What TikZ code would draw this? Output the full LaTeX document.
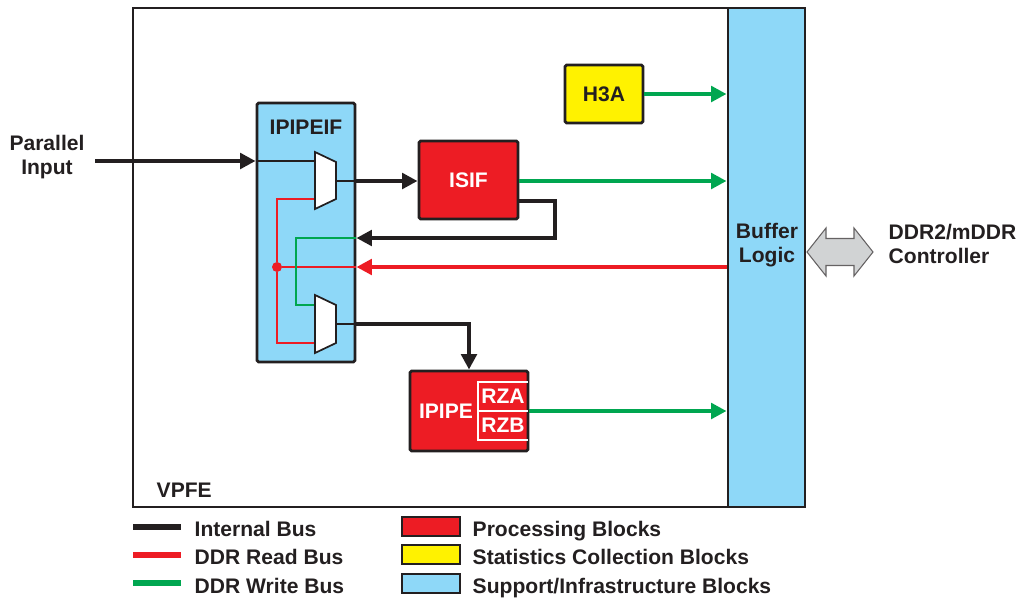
\documentclass[tikz,border=0pt]{standalone}
\usepackage{fontspec}
\setmainfont{Liberation Sans}
\usetikzlibrary{arrows.meta,fit}
\definecolor{txt}{HTML}{231F20}
\definecolor{pred}{HTML}{ED1C24}
\definecolor{pyel}{HTML}{FFF200}
\definecolor{pblue}{HTML}{8ED8F8}
\definecolor{pgreen}{HTML}{00A650}
\definecolor{pgray}{HTML}{D1D3D4}
\begin{document}
\begin{tikzpicture}[x=0.75pt,y=-0.75pt,
  every node/.style={font=\fontsize{15.8pt}{17.5pt}\selectfont\bfseries, text=txt},
  blk/.style={draw=txt, line width=2.2pt, rounded corners=1.2pt, inner sep=0pt},
  procblk/.style={blk, fill=pred},
  statblk/.style={blk, fill=pyel},
  supblk/.style={blk, fill=pblue},
  tip/.style={-{Triangle[length=11.5pt,width=11.5pt]}},
  bus/.style={draw=txt, line width=3.4pt},
  rbus/.style={draw=pred, line width=3.4pt},
  wbus/.style={draw=pgreen, line width=3.4pt},
  thinblk/.style={draw=txt, line width=0.8pt},
  thinred/.style={draw=pred, line width=0.8pt},
  thingreen/.style={draw=pgreen, line width=0.8pt},
  mux/.style={draw=txt, line width=1.3pt, fill=white, line join=miter},
  legline/.style={line width=3.8pt},
  legbox/.style={draw=txt, line width=1pt, inner sep=0pt}
]
\useasboundingbox (0,0) rectangle (1017,597);

% outer VPFE and buffer
\node[draw=txt, line width=2.2pt, inner sep=0pt, fit={(133,8) (728,507)}] (vpfe) {};
\node[anchor=west] (vpfelbl) at (152,490) {VPFE};
\node[supblk, rounded corners=0pt, line width=2.2pt, fit={(728,8) (805,507)}] (buffer) {};
\node[align=center] (buflbl) at (767,245) {Buffer\\Logic};

% blocks
\node[supblk, fit={(257,103) (355,362)}] (ipipeif) {};
\node (ipipeiflbl) at (306,127) {IPIPEIF};
\node[procblk, fit={(419,141) (518,219)}] (isif) {};
\node[text=white] (isiflbl) at (isif.center) {ISIF};
\node[statblk, fit={(565,65) (643,123)}] (h3a) {};
\node (h3albl) at (h3a.center) {H3A};
\node[procblk, fit={(410,371) (528,451)}] (ipipe) {};
\node[text=white] (ipipelbl) at (446,411) {IPIPE};
\draw[white, line width=1.2pt] (528,382) -- (478,382) -- (478,440) -- (528,440);
\draw[white, line width=1.2pt] (478,411) -- (528,411);
\node[text=white] (rza) at (503,396) {RZA};
\node[text=white] (rzb) at (503,425) {RZB};

% mux port coordinates
\coordinate (m1a) at (315,161);
\coordinate (m1r) at (315,199);
\coordinate (m1o) at (336,181);
\coordinate (m2g) at (315,305);
\coordinate (m2r) at (315,343);
\coordinate (m2o) at (336,324);
\coordinate (pin) at (95,161);
\coordinate (rt1) at (555,201);
\coordinate (rt2) at (555,238);
\coordinate (gx) at (296,305);
\node[circle, fill=pred, inner sep=0pt, minimum size=7.5pt] (dot) at (277,267) {};

% parallel input
\node[align=center] (pinlbl) at (47,157) {Parallel\\Input};
\draw[bus, tip] (pin) -- (pin -| ipipeif.west);
\draw[thinblk] (ipipeif.west |- m1a) -- (m1a);

% internal thin lines
\draw[thinred] (m1r) -| (dot);
\draw[thinred] (dot) |- (m2r);
\draw[thinred] (dot) -- (ipipeif.east |- dot);
\draw[thingreen] (ipipeif.east |- rt2) -| (gx) -- (m2g);
\draw[thinblk] (m1o) -- (m1o -| ipipeif.east);
\draw[thinblk] (m2o) -- (m2o -| ipipeif.east);

% muxes
\draw[mux] (315,152) -- (336,162) -- (336,199) -- (315,209) -- cycle;
\draw[mux] (315,295) -- (336,305) -- (336,343) -- (315,353) -- cycle;

% buses
\draw[bus, tip] (m1o -| ipipeif.east) -- (isif.west |- m1o);
\draw[bus, tip, line join=miter] (isif.east |- rt1) -- (rt1) -- (rt2) -- (ipipeif.east |- rt2);
\draw[rbus, tip] (buffer.west |- dot) -- (ipipeif.east |- dot);
\draw[bus, tip, line join=miter] (m2o -| ipipeif.east) -| (ipipe.north);
\draw[wbus, tip] (isif.east |- m1o) -- (buffer.west |- m1o);
\draw[wbus, tip] (h3a.east) -- (buffer.west |- h3a.east);
\draw[wbus, tip] (ipipe.east) -- (buffer.west |- ipipe.east);

% double arrow to DDR controller
\draw[draw=txt!70, fill=pgray, line width=0.8pt] (807,252) -- (826,228) -- (826,238.5) -- (854,238.5) -- (854,228) -- (873,252) -- (854,276) -- (854,265.5) -- (826,265.5) -- (826,276) -- cycle;
\node[anchor=west, align=left] (ddr) at (884,244) {DDR2/mDDR\\Controller};

% legend
\coordinate (l1) at (133,527);
\coordinate (l2) at (133,555);
\coordinate (l3) at (133,583);
\draw[legline, txt] (l1) -- +(48,0);
\draw[legline, pred] (l2) -- +(48,0);
\draw[legline, pgreen] (l3) -- +(48,0);
\node[anchor=base west] (t1) at (190,536) {Internal Bus};
\node[anchor=base west] (t2) at (190,564) {DDR Read Bus};
\node[anchor=base west] (t3) at (190,593) {DDR Write Bus};
\node[legbox, fill=pred, fit={(402,517) (460,536)}] (b1) {};
\node[legbox, fill=pyel, fit={(402,545) (460,564)}] (b2) {};
\node[legbox, fill=pblue, fit={(402,574) (460,593)}] (b3) {};
\node[anchor=base west] (t4) at (468,536) {Processing Blocks};
\node[anchor=base west] (t5) at (468,564) {Statistics Collection Blocks};
\node[anchor=base west] (t6) at (468,593) {Support/Infrastructure Blocks};
\end{tikzpicture}
\end{document}
